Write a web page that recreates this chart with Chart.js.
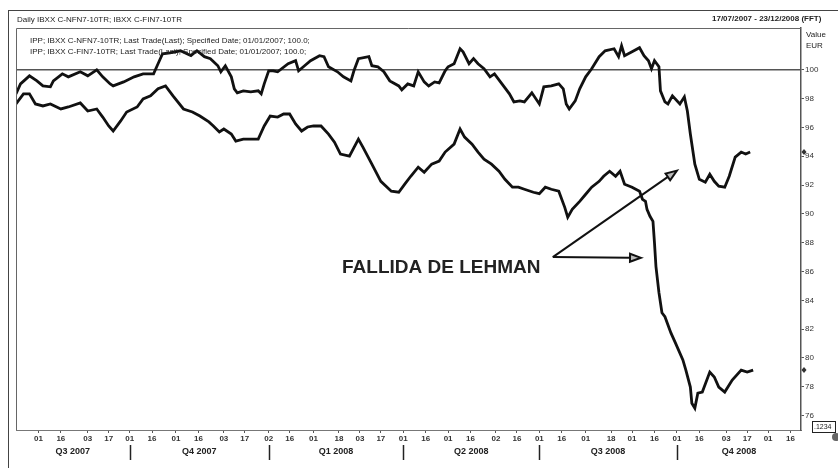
<!DOCTYPE html>
<html>
<head>
<meta charset="utf-8">
<script src="https://cdn.jsdelivr.net/npm/chart.js@4.4.1/dist/chart.umd.min.js"></script>
<style>
  body { margin: 0; background: #fff; }
  canvas { display: block; }
</style>
</head>
<body>
<canvas id="chart" width="838" height="468"></canvas>
<script>
// days counted from 17/07/2007
const tickDays = [15,30,48,62,76,91,107,122,139,153,169,183,199,216,230,244,259,274,289,304,321,335,350,365,381,398,412,427,442,457,475,489,503,518];
const tickLabels = ['01','16','03','17','01','16','01','16','03','17','02','16','01','18','03','17','01','16','01','16','02','16','01','16','01','18','01','16','01','16','03','17','01','16'];
const quarterLabels = ['Q3 2007','Q4 2007','Q1 2008','Q2 2008','Q3 2008','Q4 2008'];
const quarterBounds = [0,76,169,259,350,442,525];
const yTicks = [76,78,80,82,84,86,88,90,92,94,96,98,100];
const baseLevel = 100;

// IBXX C-NFN7-10TR (non financials)
const nfinDays = [0,3,9,14,18,23,25,31,35,43,48,54,58,63,65,72,79,85,92,95,98,103,110,117,121,126,130,135,137,140,144,146,148,152,157,162,164,166,169,172,175,182,187,189,193,197,203,206,209,215,219,224,226,229,236,238,242,246,250,256,258,262,266,269,273,276,280,283,287,289,293,297,299,303,306,309,313,317,320,325,330,333,337,340,345,350,353,358,363,366,368,370,374,377,381,385,390,394,400,403,405,407,412,417,420,423,425,427,430,431,434,436,439,444,447,449,451,454,457,461,464,467,470,474,477,481,485,488,491];
const nfinValues = [98.33,99.02,99.58,99.23,98.88,98.82,99.23,99.72,99.51,99.86,99.58,100,99.51,99.02,98.88,99.16,99.51,99.72,99.72,100.42,101.11,101.18,101.32,100.98,101.32,100.91,100.77,100.28,99.86,100.28,99.51,98.68,98.40,98.54,98.47,98.54,98.33,99.02,99.93,99.93,99.86,100.42,100.63,99.93,100.28,100.63,100.98,100.91,100.21,99.86,99.51,99.23,99.93,100.77,100.91,100.28,100.21,99.86,99.23,98.88,98.61,99.02,98.88,99.86,99.16,98.88,99.16,99.09,99.93,100.21,100.42,101.46,101.25,100.42,100.77,100.42,100.07,99.51,99.72,99.02,98.33,97.77,97.84,97.77,98.4,97.63,98.82,98.88,99.02,98.68,97.63,97.28,97.84,98.68,99.51,100.07,100.91,101.32,101.46,100.91,101.67,100.98,101.25,101.53,100.98,100.63,100.07,100.63,100.21,98.54,97.77,97.63,98.19,97.63,98.12,97.14,95.54,93.45,92.40,92.20,92.75,92.26,91.92,91.85,92.61,93.94,94.29,94.15,94.29];

// IBXX C-FIN7-10TR (financials)
const finDays = [0,5,9,13,18,23,30,35,43,48,54,58,62,65,70,74,81,85,90,95,100,105,112,118,123,129,132,136,139,144,147,152,157,162,166,170,175,179,183,187,191,195,199,204,209,213,217,223,229,232,238,244,251,256,260,264,269,273,278,283,287,293,297,300,305,309,313,318,323,327,332,336,340,346,350,354,358,363,367,369,372,377,381,385,390,393,397,401,404,407,412,417,419,421,422,424,426,427,428,430,432,434,438,441,446,448,451,452,454,456,459,464,467,470,474,479,485,489,493];
const finValues = [97.63,98.33,98.33,97.63,97.49,97.63,97.28,97.42,97.70,97.14,97.28,96.72,96.10,95.75,96.45,97.07,97.42,97.98,98.19,98.68,98.88,98.19,97.28,97.07,96.79,96.38,96.10,95.68,95.89,95.54,95.05,95.19,95.19,95.19,96.10,96.79,96.72,96.93,96.93,96.24,95.75,96.03,96.10,96.10,95.54,94.98,94.15,94.01,95.19,94.63,93.45,92.26,91.57,91.50,92.06,92.61,93.24,92.89,93.45,93.66,94.29,94.84,95.89,95.33,94.84,94.29,93.80,93.45,92.96,92.40,91.85,91.85,91.71,91.50,91.4,91.85,91.71,91.57,90.45,89.76,90.31,90.87,91.36,91.85,92.26,92.61,92.96,92.61,92.96,92.06,91.85,91.57,91.01,90.87,90.31,89.83,89.48,88.01,86.34,84.53,83.14,82.86,81.74,81.05,79.86,79.16,77.98,76.86,76.52,77.56,77.63,79.02,78.68,77.98,77.63,78.47,79.16,79.02,79.16];

// annotation: arrow start and the two arrow tips, in [day, value]
const arrowStart = [359, 87.0];
const arrowTips = [[442, 93.0], [418, 86.95]];
const noteText = 'FALLIDA DE LEHMAN';

const FONT = '"Liberation Sans", Arial, sans-serif';

function toPoints(xs, ys) {
  return xs.map((d, i) => ({ x: d, y: ys[i] }));
}

function arrow(ctx, x1, y1, x2, y2) {
  const a = Math.atan2(y2 - y1, x2 - x1);
  const len = 11, w = 4;
  const bx = x2 - len * Math.cos(a), by = y2 - len * Math.sin(a);
  ctx.beginPath();
  ctx.moveTo(x1, y1);
  ctx.lineTo(bx, by);
  ctx.stroke();
  ctx.beginPath();
  ctx.moveTo(x2, y2);
  ctx.lineTo(bx + w * Math.sin(a), by - w * Math.cos(a));
  ctx.lineTo(bx - w * Math.sin(a), by + w * Math.cos(a));
  ctx.closePath();
  ctx.fillStyle = '#bbb';
  ctx.fill();
  ctx.stroke();
}

const extras = {
  id: 'extras',
  afterDraw(chart) {
    const ctx = chart.ctx;
    const xs = chart.scales.x, ys = chart.scales.y;
    const area = chart.chartArea;
    ctx.save();

    // outer frame + plot box
    ctx.strokeStyle = '#444';
    ctx.lineWidth = 1;
    ctx.strokeRect(8.5, 10.5, 840, 470);
    ctx.strokeStyle = '#666';
    ctx.beginPath();
    ctx.moveTo(area.left + 0.5, area.bottom);
    ctx.lineTo(area.left + 0.5, area.top + 0.5);
    ctx.lineTo(area.right, area.top + 0.5);
    ctx.stroke();

    // header texts
    ctx.fillStyle = '#222';
    ctx.textBaseline = 'middle';
    ctx.font = '8px ' + FONT;
    ctx.fillText('Daily IBXX C-NFN7-10TR; IBXX C-FIN7-10TR', 17, 20);
    ctx.font = 'bold 8px ' + FONT;
    ctx.fillText('17/07/2007 - 23/12/2008 (FFT)', 712, 19);
    ctx.font = '8px ' + FONT;
    ctx.fillText('IPP; IBXX C-NFN7-10TR; Last Trade(Last); Specified Date; 01/01/2007; 100.0;', 30, 41);
    ctx.fillText('IPP; IBXX C-FIN7-10TR; Last Trade(Last); Specified Date; 01/01/2007; 100.0;', 30, 52);
    ctx.fillText('Value', 806, 35);
    ctx.fillText('EUR', 806, 46);

    // quarter labels and separators
    ctx.font = 'bold 9px ' + FONT;
    ctx.textAlign = 'center';
    quarterLabels.forEach((q, i) => {
      const cx = (xs.getPixelForValue(quarterBounds[i]) + xs.getPixelForValue(quarterBounds[i + 1])) / 2;
      ctx.fillText(q, cx, 452);
    });
    ctx.strokeStyle = '#222';
    ctx.lineWidth = 1.5;
    quarterBounds.slice(1, -1).forEach(d => {
      const px = Math.round(xs.getPixelForValue(d)) + 0.5;
      ctx.beginPath();
      ctx.moveTo(px, 445);
      ctx.lineTo(px, 460);
      ctx.stroke();
    });

    // last value markers on the axis
    ctx.fillStyle = '#333';
    [nfinValues[nfinValues.length - 1], finValues[finValues.length - 1]].forEach(v => {
      const py = ys.getPixelForValue(v);
      ctx.beginPath();
      ctx.moveTo(804, py - 3);
      ctx.lineTo(806.5, py);
      ctx.lineTo(804, py + 3);
      ctx.lineTo(801.5, py);
      ctx.closePath();
      ctx.fill();
    });

    // small value box
    ctx.strokeStyle = '#222';
    ctx.lineWidth = 1;
    ctx.strokeRect(812.5, 421.5, 23, 11);
    ctx.font = '7px ' + FONT;
    ctx.textAlign = 'left';
    ctx.fillStyle = '#222';
    ctx.fillText('.1234', 814, 427);
    ctx.beginPath();
    ctx.arc(836, 437, 4, 0, Math.PI * 2);
    ctx.fillStyle = '#666';
    ctx.fill();

    // annotation
    ctx.font = 'bold 19px ' + FONT;
    ctx.fillStyle = '#222';
    ctx.textAlign = 'left';
    ctx.fillText(noteText, 342, 268);
    ctx.strokeStyle = '#111';
    ctx.lineWidth = 2;
    const sx = xs.getPixelForValue(arrowStart[0]), sy = ys.getPixelForValue(arrowStart[1]);
    arrowTips.forEach(t => {
      arrow(ctx, sx, sy, xs.getPixelForValue(t[0]), ys.getPixelForValue(t[1]));
    });
    ctx.restore();
  }
};

new Chart(document.getElementById('chart'), {
  type: 'line',
  data: {
    datasets: [
      {
        label: 'IBXX C-NFN7-10TR',
        data: toPoints(nfinDays, nfinValues),
        borderColor: '#111',
        borderWidth: 2.8
      },
      {
        label: 'IBXX C-FIN7-10TR',
        data: toPoints(finDays, finValues),
        borderColor: '#111',
        borderWidth: 2.8
      },
      {
        label: 'base',
        data: [{ x: 0, y: baseLevel }, { x: 525, y: baseLevel }],
        borderColor: '#555',
        borderWidth: 1.5
      }
    ]
  },
  options: {
    responsive: false,
    animation: false,
    devicePixelRatio: 1,
    layout: { padding: { left: 16, top: 28, right: 0, bottom: 0 } },
    elements: { point: { radius: 0 }, line: { tension: 0 } },
    plugins: { legend: { display: false }, tooltip: { enabled: false } },
    scales: {
      x: {
        type: 'linear',
        min: 0,
        max: 525,
        afterBuildTicks: s => { s.ticks = tickDays.map(v => ({ value: v })); },
        afterFit: s => { s.height = 38; },
        ticks: {
          autoSkip: false,
          maxRotation: 0,
          padding: 1,
          color: '#333',
          font: { size: 8, weight: 'bold', family: FONT },
          callback: (v, i) => tickLabels[i]
        },
        grid: { drawOnChartArea: false, tickLength: 3, color: '#555' },
        border: { color: '#777' }
      },
      y: {
        position: 'right',
        min: 75,
        max: 102.9,
        afterBuildTicks: s => { s.ticks = yTicks.map(v => ({ value: v })); },
        afterFit: s => { s.width = 37; },
        ticks: {
          padding: 1,
          color: '#333',
          font: { size: 8, family: FONT },
          callback: v => v
        },
        grid: { drawOnChartArea: false, tickLength: 3, color: '#555' },
        border: { color: '#555', width: 1.5 }
      }
    }
  },
  plugins: [extras]
});
</script>
</body>
</html>
